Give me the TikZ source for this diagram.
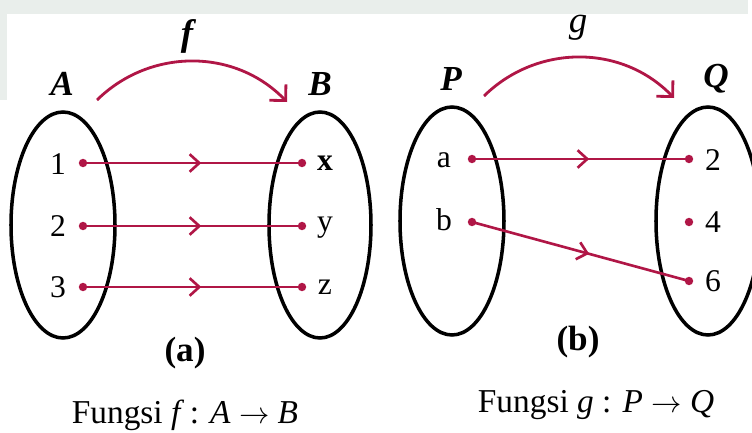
\documentclass[tikz,border=0pt]{standalone}
\usepackage{fontspec}
\setmainfont{Liberation Serif}
\usetikzlibrary{arrows.meta,decorations.markings}
\definecolor{mapred}{RGB}{176,22,70}
\definecolor{bgtint}{RGB}{233,238,235}

\begin{document}
\begin{tikzpicture}[x=0.02cm,y=-0.02cm,every node/.style={font=\fontsize{18}{20}\selectfont,inner sep=1pt},
  setring/.style={draw=black,line width=2pt},
  setname/.style={font=\fontsize{20}{22}\selectfont\bfseries\itshape},
  elemdot/.style={circle,fill=mapred,inner sep=0pt,minimum size=4.8pt},
  maplink/.style={draw=mapred,line width=1.5pt,postaction={decorate},
    decoration={markings,mark=at position 0.54 with {\arrow{Straight Barb[length=5.5pt,width=10pt,line width=1.5pt]}}}},
  bigmap/.style={draw=mapred,line width=1.6pt,-{Straight Barb[length=6.5pt,width=13pt,line width=1.6pt]}},
  caption/.style={font=\fontsize{19}{21}\selectfont}]
\useasboundingbox (0,0) rectangle (752,433);
\fill[bgtint] (0,0) rectangle (748,14);
\fill[bgtint] (0,0) rectangle (7,100);

% (a) f : A -> B
\draw[setring] (63,225) ellipse [x radius=52, y radius=113];
\draw[setring] (320,225) ellipse [x radius=51, y radius=113];
\node[setname] (setA) at (62,84) {A};
\node[setname] (setB) at (320,84) {B};
\coordinate (fs) at (97,100);
\coordinate (fe) at (287,102);
\draw[bigmap] (fs) .. controls (150,48) and (235,48) .. (fe);
\node[font=\fontsize{21}{22}\selectfont\bfseries\itshape] (fname) at (187,36) {f};

\node (l1) at (58,164) {1};
\node (l2) at (58,226) {2};
\node (l3) at (58,287) {3};
\node[elemdot] (a1) at (83,163) {};
\node[elemdot] (a2) at (83,226) {};
\node[elemdot] (a3) at (83,287) {};
\node[elemdot] (b1) at (302,163) {};
\node[elemdot] (b2) at (302,226) {};
\node[elemdot] (b3) at (302,287) {};
\node[font=\fontsize{18}{20}\selectfont\bfseries] (rx) at (325,163) {x};
\node (ry) at (325,228) {y};
\node (rz) at (325,287) {z};
\draw[maplink] (a1.center) -- (b1.center);
\draw[maplink] (a2.center) -- (b2.center);
\draw[maplink] (a3.center) -- (b3.center);
\node[font=\fontsize{20}{22}\selectfont\bfseries] (capa) at (185,353) {(a)};
\node[caption] (funf) at (185,415) {Fungsi \textit{f}\,: \textit{A} $\rightarrow$ \textit{B}};

% (b) g : P -> Q
\draw[setring] (452,221) ellipse [x radius=52, y radius=114];
\draw[setring] (708,221) ellipse [x radius=52, y radius=114];
\node[setname] (setP) at (451,79) {P};
\node[setname] (setQ) at (716,79) {Q};
\coordinate (gs) at (484,96);
\coordinate (ge) at (674,98);
\draw[bigmap] (gs) .. controls (537,44) and (622,44) .. (ge);
\node[font=\fontsize{21}{22}\selectfont\itshape] (gname) at (578,28) {g};

\node (la) at (444,160) {a};
\node (lb) at (444,220) {b};
\node[elemdot] (pa) at (472,159) {};
\node[elemdot] (pb) at (472,222) {};
\node[elemdot] (q2) at (689,159) {};
\node[elemdot] (q4) at (689,222) {};
\node[elemdot] (q6) at (689,281) {};
\node (r2) at (713,160) {2};
\node (r4) at (713,222) {4};
\node (r6) at (713,281) {6};
\draw[maplink] (pa.center) -- (q2.center);
\draw[maplink] (pb.center) -- (q6.center);
\node[font=\fontsize{20}{22}\selectfont\bfseries] (capb) at (578,342) {(b)};
\node[caption] (fung) at (596,405) {Fungsi \textit{g} : \textit{P} $\rightarrow$ \textit{Q}};
\end{tikzpicture}
\end{document}
